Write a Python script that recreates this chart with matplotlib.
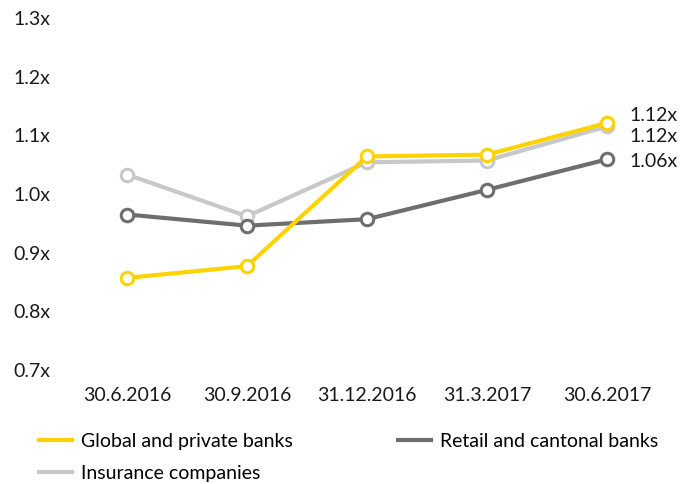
import matplotlib.pyplot as plt
from matplotlib.lines import Line2D

dates = ["30.6.2016", "30.9.2016", "31.12.2016", "31.3.2017", "30.6.2017"]
global_private = [0.857, 0.877, 1.064, 1.067, 1.121]
retail_cantonal = [0.965, 0.946, 0.957, 1.007, 1.059]
insurance = [1.033, 0.962, 1.054, 1.057, 1.115]
end_labels = ["1.12x", "1.12x", "1.06x"]
yticks = [0.7, 0.8, 0.9, 1.0, 1.1, 1.2, 1.3]

YELLOW = "#FFD200"
DARK = "#6E6E6E"
LIGHT = "#C8C8C8"

plt.rcParams["font.family"] = ["Lato", "DejaVu Sans"]

fig = plt.figure(figsize=(6.94, 4.84), dpi=100)
ax = fig.add_axes([0.0965, 0.2355, 0.8645, 0.7275])

x = list(range(len(dates)))
series = [
  (global_private, YELLOW, 3),
  (insurance, LIGHT, 1),
  (retail_cantonal, DARK, 2),
]
for vals, col, z in series:
  ax.plot(x, vals, color=col, lw=3, marker="o", ms=9,
          mfc="white", mec=col, mew=2.2, zorder=z)

label_y = [1.133, 1.098, 1.055]
for ly, txt in zip(label_y, end_labels):
  ax.text(4.19, ly, txt, fontsize=14, va="center", ha="left", color="#1a1a1a")

ax.set_xlim(-0.5, 4.5)
ax.set_ylim(0.7, 1.3)
ax.set_xticks(x)
ax.set_xticklabels(dates, fontsize=14, color="#1a1a1a")
ax.set_yticks(yticks)
ax.set_yticklabels([f"{v:.1f}x" for v in yticks], fontsize=14, color="#1a1a1a")
ax.tick_params(length=0, pad=12)
for s in ax.spines.values():
  s.set_visible(False)

# column-major fill: first column gets items 0 and 1
legend_items = [
  (YELLOW, "Global and private banks"),
  (LIGHT, "Insurance companies"),
  (DARK, "Retail and cantonal banks"),
]
leg_handles = [Line2D([0], [0], color=c, lw=3) for c, _ in legend_items]
fig.legend(leg_handles, [n for _, n in legend_items], ncol=2, frameon=False,
           loc="upper left", bbox_to_anchor=(0.056, 0.106), fontsize=14,
           handlelength=1.7, handletextpad=0.46, columnspacing=5.4,
           labelspacing=0.8, borderpad=0, borderaxespad=0)

fig.savefig("out.png", dpi=100)
